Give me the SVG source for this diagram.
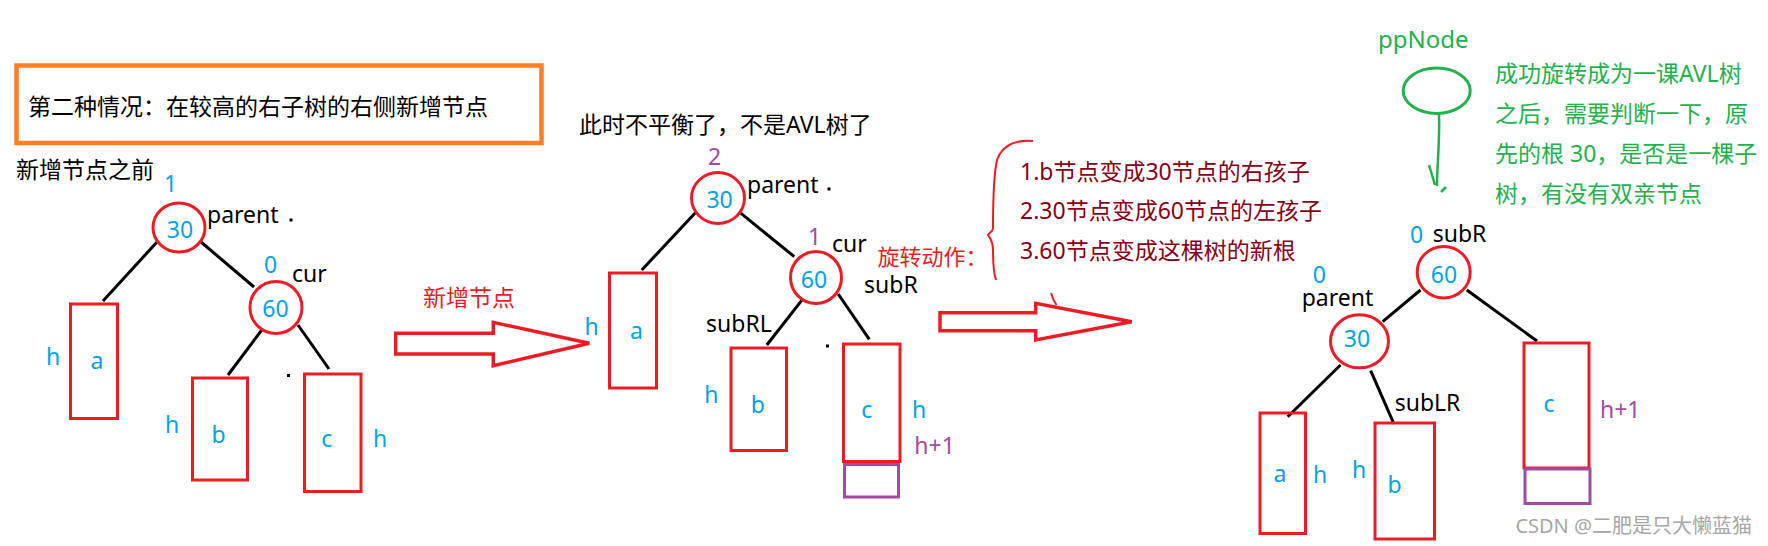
<svg xmlns="http://www.w3.org/2000/svg" width="1768" height="546" viewBox="0 0 1768 546">
<style>
text{font-family:"Noto Sans","Noto Sans CJK SC",sans-serif;font-size:23px}
.k{fill:#000}
.bl{fill:#00A2E8}
.pu{fill:#A349A4}
.rd{fill:#ED1C24}
.dr{fill:#880015}
.gr{fill:#22B14C}
.m{text-anchor:middle}
.node{fill:none;stroke:#ED1C24;stroke-width:3}
.box{fill:none;stroke:#ED1C24;stroke-width:3}
.pbox{fill:none;stroke:#A349A4;stroke-width:3}
.edge{stroke:#000;stroke-width:3;fill:none}
.arrow{fill:none;stroke:#ED1C24;stroke-width:3.5;stroke-linejoin:miter}
.dot{fill:#000}
</style>
<rect width="1768" height="546" fill="#fff"/>

<g id="title">
<rect x="16.5" y="65.5" width="525" height="77.5" fill="none" stroke="#FF7F27" stroke-width="4.5"/>
<text x="28" y="115" class="k">第二种情况：在较高的右子树的右侧新增节点</text>
</g>

<g id="connectors">
<line class="edge" x1="157" y1="242" x2="103" y2="301"/>
<line class="edge" x1="201" y1="242" x2="254" y2="287"/>
<line class="edge" x1="262.5" y1="329" x2="228" y2="375"/>
<line class="edge" x1="298" y1="325" x2="329" y2="369"/>
<line class="edge" x1="695.4" y1="212.7" x2="641.8" y2="270"/>
<line class="edge" x1="738.9" y1="211.7" x2="794.3" y2="256.7"/>
<line class="edge" x1="802.5" y1="299.3" x2="766.8" y2="345"/>
<line class="edge" x1="838.2" y1="294" x2="869.3" y2="339.3"/>
<line class="edge" x1="1420.5" y1="290" x2="1382.7" y2="321.7"/>
<line class="edge" x1="1466.8" y1="290" x2="1537" y2="341"/>
<line class="edge" x1="1340.5" y1="365" x2="1287.7" y2="416.7"/>
<line class="edge" x1="1370.7" y1="370.7" x2="1394" y2="424"/>
<polygon class="arrow" points="395.7,333.3 493.3,333.3 493.3,322.3 589.3,343.3 493.3,365.7 493.3,354 395.7,354"/>
<polygon class="arrow" points="940,312.7 1035.7,312.7 1035.7,303.3 1131.7,321.7 1035.7,340 1035.7,330.7 940,330.7"/>
</g>

<!-- Tree 1 -->
<g id="t1-label">
<text x="16" y="178" class="k">新增节点之前</text>
<text x="164" y="192" class="bl">1</text>
<text x="207" y="223" class="k">parent</text>
<rect class="dot" x="289.5" y="218.5" width="3" height="3"/>
<text x="264" y="273" class="bl">0</text>
<text x="292" y="282" class="k">cur</text>
<rect class="dot" x="287" y="374" width="3" height="3"/>
</g>
<g id="t1-n30">
<ellipse class="node" cx="179" cy="227.5" rx="26" ry="24.5"/>
<text x="180" y="237.5" class="bl m">30</text>
</g>
<g id="t1-n60">
<ellipse class="node" cx="276" cy="307.5" rx="26" ry="26"/>
<text x="275.5" y="317.3" class="bl m">60</text>
</g>
<g id="t1-a">
<rect class="box" x="70.5" y="304" width="47" height="114.5"/>
<text x="97" y="369.3" class="bl m">a</text>
<text x="46" y="365" class="bl">h</text>
</g>
<g id="t1-b">
<rect class="box" x="192.5" y="378" width="55" height="102"/>
<text x="218.6" y="443.3" class="bl m">b</text>
<text x="165" y="433.3" class="bl">h</text>
</g>
<g id="t1-c">
<rect class="box" x="304.5" y="374" width="56.5" height="117.5"/>
<text x="326.8" y="447.3" class="bl m">c</text>
<text x="373" y="447.3" class="bl">h</text>
</g>
<g id="arrow1-label">
<text x="423" y="306" class="rd">新增节点</text>
</g>

<!-- Tree 2 -->
<g id="t2-label">
<text x="579" y="133.3" class="k">此时不平衡了，不是AVL树了</text>
<text x="708" y="165" class="pu">2</text>
<text x="747" y="193.3" class="k">parent</text>
<rect class="dot" x="827.5" y="187.5" width="3" height="3"/>
<text x="808" y="245" class="pu">1</text>
<text x="832" y="251.7" class="k">cur</text>
<text x="864" y="292.7" class="k">subR</text>
<text x="706" y="331.7" class="k">subRL</text>
<rect class="dot" x="826" y="344.5" width="3" height="3"/>
</g>
<g id="t2-n30">
<ellipse class="node" cx="718" cy="198" rx="26.5" ry="25.5"/>
<text x="719.6" y="208.3" class="bl m">30</text>
</g>
<g id="t2-n60">
<ellipse class="node" cx="816" cy="277.5" rx="25.5" ry="26"/>
<text x="814" y="288.3" class="bl m">60</text>
</g>
<g id="t2-a">
<rect class="box" x="609.5" y="273" width="47" height="115"/>
<text x="636.4" y="339.3" class="bl m">a</text>
<text x="584.6" y="335" class="bl">h</text>
</g>
<g id="t2-b">
<rect class="box" x="731" y="348" width="55.5" height="102.5"/>
<text x="757.9" y="413.3" class="bl m">b</text>
<text x="704.3" y="403.3" class="bl">h</text>
</g>
<g id="t2-c">
<rect class="box" x="843.5" y="344" width="56.5" height="117.5"/>
<rect class="pbox" x="844.5" y="464.5" width="54" height="32.5"/>
<text x="866.8" y="418.3" class="bl m">c</text>
<text x="912" y="417.7" class="bl">h</text>
<text x="914.3" y="454" class="pu">h+1</text>
</g>

<!-- Rotation notes -->
<g id="rotation-notes">
<text x="877.5" y="265" class="rd" style="font-size:22px">旋转动作：</text>
<path d="M1033,141 C1010,139 998,150 996,165 C993,185 993,210 993,228 C993,232 989,233 988,235 C990,238 993,241 993,250 C993,265 994,274 996,280" fill="none" stroke="#ED1C24" stroke-width="2"/>
<path d="M1051,293 Q1053,300 1056.5,305" fill="none" stroke="#ED1C24" stroke-width="2"/>
<text x="1020" y="180" class="dr">1.b节点变成30节点的右孩子</text>
<text x="1020" y="219.3" class="dr">2.30节点变成60节点的左孩子</text>
<text x="1020" y="259.3" class="dr">3.60节点变成这棵树的新根</text>
</g>

<!-- Tree 3 -->
<g id="ppNode">
<text x="1378" y="48" class="gr" style="font-size:24px">ppNode</text>
<ellipse cx="1436.7" cy="90.8" rx="33.5" ry="22.7" fill="none" stroke="#22B14C" stroke-width="3"/>
<path d="M1439,114 C1440,140 1437,165 1437,186 M1429,165 L1435,185 M1446,187 L1441,192" fill="none" stroke="#22B14C" stroke-width="2.5"/>
</g>
<g id="ppNode-note">
<text x="1495" y="81.7" class="gr">成功旋转成为一课AVL树</text>
<text x="1495" y="121.7" class="gr">之后，需要判断一下，原</text>
<text x="1495" y="161.7" class="gr">先的根 30，是否是一棵子</text>
<text x="1495" y="201.7" class="gr">树，有没有双亲节点</text>
</g>
<g id="t3-n60">
<ellipse class="node" cx="1443.7" cy="272.2" rx="26.5" ry="25.7"/>
<text x="1444" y="283.3" class="bl m">60</text>
<text x="1410" y="243" class="bl">0</text>
<text x="1432.7" y="241.7" class="k">subR</text>
</g>
<g id="t3-n30">
<ellipse class="node" cx="1359.5" cy="341.3" rx="29" ry="26.5"/>
<text x="1357" y="346.7" class="bl m">30</text>
<text x="1312.7" y="283" class="bl">0</text>
<text x="1301.7" y="306" class="k">parent</text>
<text x="1394.7" y="411" class="k">subLR</text>
</g>
<g id="t3-a">
<rect class="box" x="1260" y="413" width="45.5" height="120.5"/>
<text x="1280" y="481.7" class="bl m">a</text>
<text x="1313" y="483.3" class="bl">h</text>
</g>
<g id="t3-b">
<rect class="box" x="1375" y="423" width="59.5" height="116"/>
<text x="1394.7" y="493.3" class="bl m">b</text>
<text x="1352" y="478.3" class="bl">h</text>
</g>
<g id="t3-c">
<rect class="box" x="1524" y="343" width="65" height="125"/>
<rect class="pbox" x="1525" y="469" width="65" height="34.5"/>
<text x="1549" y="411.7" class="bl m">c</text>
<text x="1600" y="418.3" class="pu">h+1</text>
</g>
<g id="watermark">
<text x="1752" y="533.3" style="font-size:20px;fill:#a6a6a6;text-anchor:end">CSDN @二肥是只大懒蓝猫</text>
</g>
</svg>
